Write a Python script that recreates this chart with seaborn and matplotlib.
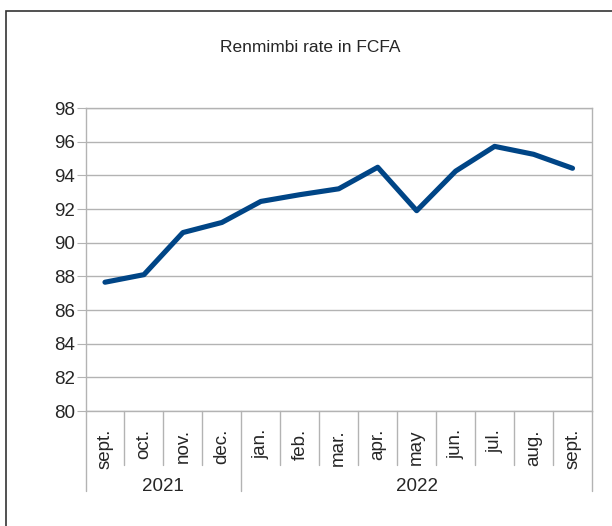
import matplotlib
matplotlib.use('Agg')
import matplotlib.pyplot as plt
import matplotlib.patches as mpatches
import seaborn as sns
import pandas as pd

# data
months = ['sept.', 'oct.', 'nov.', 'dec.', 'jan.', 'feb.', 'mar.',
          'apr.', 'may', 'jun.', 'jul.', 'aug.', 'sept.']
years = ['2021', '2022']
year_spans = [(0, 3), (4, 12)]
rate = [87.65, 88.1, 90.6, 91.2, 92.45, 92.85, 93.2,
        94.48, 91.9, 94.25, 95.72, 95.25, 94.42]

df = pd.DataFrame({'pos': range(len(months)), 'rate': rate})

sns.set_style('white')
plt.rcParams['font.family'] = ['Liberation Sans', 'DejaVu Sans']

fig = plt.figure(figsize=(6.12, 5.26), dpi=100)
ax = fig.add_axes([85.5 / 612, 1 - 411 / 526, (592 - 85.5) / 612, 303 / 526])

grey = '#b3b3b3'
sns.lineplot(data=df, x='pos', y='rate', ax=ax, color='#004586', linewidth=3.7)

ax.set_xlim(-0.5, len(months) - 0.5)
ax.set_ylim(80, 98)
ax.set_yticks(range(80, 99, 2))
ax.yaxis.grid(True, color=grey, linewidth=1)
ax.tick_params(axis='y', length=6.5, color=grey, pad=1, labelsize=13.5, left=True)
ax.set_xticks(range(len(months)))
ax.set_xticklabels(months, rotation=90, fontsize=13.5)
ax.tick_params(axis='x', length=0, pad=13)
ax.set_xlabel('')
ax.set_ylabel('')
for s in ax.spines.values():
    s.set_color(grey)
    s.set_linewidth(1)

# category separators below the axis
trans = ax.get_xaxis_transform()
for i in range(len(months) + 1):
    x = i - 0.5
    edge = x in (-0.5, 3.5, len(months) - 0.5)
    ax.plot([x, x], [0, -0.264 if edge else -0.178], transform=trans,
            color=grey, linewidth=1, clip_on=False)
for yr, (a, b) in zip(years, year_spans):
    ax.text((a + b) / 2, -0.248, yr, transform=trans, ha='center', va='center',
            fontsize=13.5)

fig.text(310 / 612, 1 - 47 / 526, 'Renmimbi rate in FCFA', ha='center',
         va='center', fontsize=12.5)

# outer frame of the chart object
fig.patches.append(mpatches.Rectangle((6 / 612, -0.1), 1.2, 1 - 11 / 526 + 0.1,
                                      transform=fig.transFigure, fill=False,
                                      edgecolor='#333333', linewidth=1.2))

fig.savefig('out.png', dpi=100)
